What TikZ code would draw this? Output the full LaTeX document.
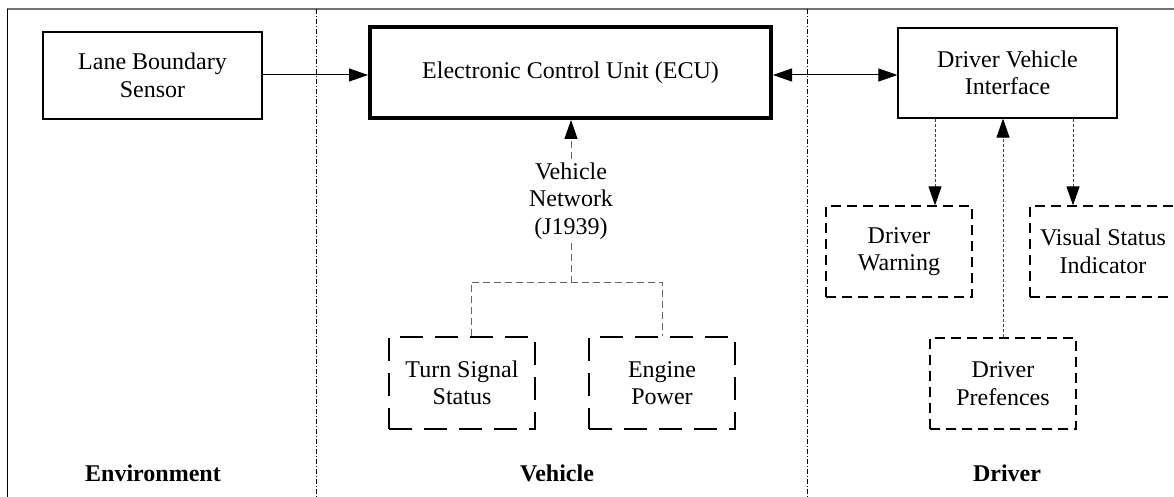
\documentclass[tikz,border=0pt]{standalone}
\usepackage{fontspec}
\setmainfont{Liberation Serif}
\usetikzlibrary{arrows.meta}
\tikzset{
  every node/.style={font=\fontsize{24}{27.5}\selectfont, align=center},
  solidbox/.style={draw, line width=1.2pt, inner sep=0pt, rectangle},
  ecubox/.style={draw, line width=4pt, inner sep=0pt, rectangle},
  vehbox/.style={draw, line width=1.2pt, inner sep=0pt, rectangle, dash pattern=on 23pt off 12pt},
  drvbox/.style={draw, line width=1.2pt, inner sep=0pt, rectangle, dash pattern=on 10pt off 6pt},
  tip/.style={-{Triangle[length=19pt,width=13pt,color=black]}},
  solidarr/.style={line width=1pt, tip},
  bothsolid/.style={line width=1pt, {Triangle[length=19pt,width=13pt]}-{Triangle[length=19pt,width=13pt]}},
  netline/.style={line width=1pt, draw=black!60, dash pattern=on 7pt off 4pt},
  dotarr/.style={line width=1pt, draw=black!75, dash pattern=on 3pt off 2pt, tip},
  divider/.style={line width=0.8pt, dash pattern=on 5pt off 2pt on 1pt off 2pt},
  seclabel/.style={font=\fontsize{24}{27.5}\selectfont\bfseries},
}
\begin{document}
\begin{tikzpicture}[x=1pt, y=-1pt]
\useasboundingbox (0,0) rectangle (1174,497);
% frame
\draw[line width=1.6pt, draw=black!55] (7,9) -- (1174,9);
\draw[line width=1pt] (7,9) -- (7,497);
% dividers
\draw[divider] (316,9) -- (316,497);
\draw[divider] (807,9) -- (807,497);
% nodes
\node[solidbox, minimum width=219pt, minimum height=87pt] (lane) at (152.5,75.5) {Lane Boundary\\Sensor};
\node[ecubox, minimum width=401pt, minimum height=91pt] (ecu) at (570.5,72.5) {Electronic Control Unit (ECU)};
\node[solidbox, minimum width=219pt, minimum height=90pt] (dvi) at (1007.5,73) {Driver Vehicle\\Interface};
\node[inner sep=3pt] (vn) at (571,201) {Vehicle\\Network\\(J1939)};
\node[vehbox, minimum width=146pt, minimum height=92pt] (ts) at (462,383) {Turn Signal\\Status};
\node[vehbox, minimum width=146pt, minimum height=92pt] (ep) at (662,383) {Engine\\Power};
\node[drvbox, minimum width=146pt, minimum height=91pt] (dw) at (899,251.5) {Driver\\Warning};
\node[drvbox, minimum width=146pt, minimum height=91pt] (vs) at (1103,251.5) {Visual Status\\Indicator};
\node[drvbox, minimum width=146pt, minimum height=91pt] (dp) at (1003,383.5) {Driver\\Prefences};
\node[seclabel] (env) at (153,473) {Environment};
\node[seclabel] (veh) at (557,473) {Vehicle};
\node[seclabel] (drv) at (1007,473) {Driver};
% helper coordinates
\coordinate (jl) at (471,282);
\coordinate (jr) at (662,282);
\coordinate (xa) at (935,0);
\coordinate (xb) at (1073,0);
\coordinate (xc) at (1003,0);
\coordinate (ya) at (0,75);
% connectors
\draw[solidarr] (lane.east |- ya) -- (ecu.west |- ya);
\draw[bothsolid] (ecu.east |- ya) -- (dvi.west |- ya);
\draw[netline, tip] (vn.north) -- (vn.north |- ecu.south);
\draw[netline] (vn.south) -- (vn.south |- jl);
\draw[netline] (ts.north -| jl) -- (jl) -- (jr) -- (ep.north -| jr);
\draw[dotarr] (dvi.south -| xa) -- (dw.north -| xa);
\draw[dotarr] (dvi.south -| xb) -- (vs.north -| xb);
\draw[dotarr] (dp.north -| xc) -- (dvi.south -| xc);
\end{tikzpicture}
\end{document}
